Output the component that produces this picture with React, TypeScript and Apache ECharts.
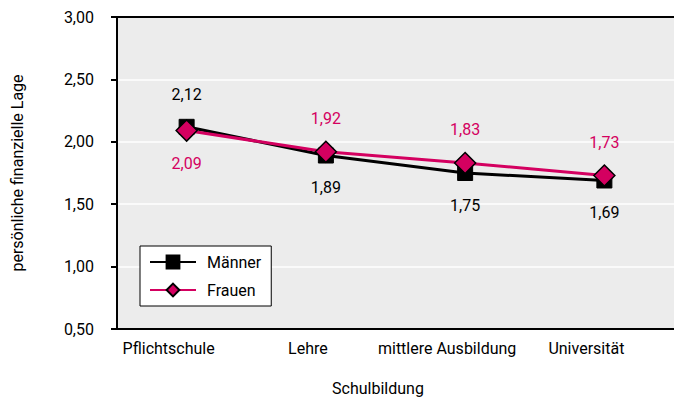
import React, { useEffect, useRef } from "react";
import * as echarts from "echarts";

const categories = ["Pflichtschule", "Lehre", "mittlere Ausbildung", "Universität"];
const maenner = [2.12, 1.89, 1.75, 1.69];
const frauen = [2.09, 1.92, 1.83, 1.73];
const seriesNames = ["Männer", "Frauen"];
const yAxisName = "persönliche finanzielle Lage";
const xAxisName = "Schulbildung";

const FONT = "Roboto, 'Liberation Sans', sans-serif";
const PINK = "#d40060";

const fmt = (v: number) => v.toFixed(2).replace(".", ",");

export default function App() {
  const ref = useRef<HTMLDivElement>(null);
  useEffect(() => {
    if (!ref.current) return;
    const chart = echarts.init(ref.current, undefined, { renderer: "svg" });
    chart.setOption({
      animation: false,
      textStyle: { fontFamily: FONT },
      grid: {
        left: 117,
        right: -10,
        top: 17,
        bottom: 77,
        show: true,
        backgroundColor: "#ececec",
        borderWidth: 0,
      },
      legend: {
        orient: "vertical",
        left: 140,
        top: 246,
        padding: [8, 10, 8, 9],
        itemGap: 12,
        itemWidth: 46,
        itemHeight: 16,
        backgroundColor: "#ffffff",
        borderColor: "#000000",
        borderWidth: 1,
        borderRadius: 0,
        textStyle: { fontFamily: FONT, fontSize: 16, color: "#000", padding: [0, 0, 0, 6] },
        data: seriesNames,
      },
      xAxis: [
        {
          type: "category",
          data: categories,
          boundaryGap: true,
          axisLine: { lineStyle: { color: "#000", width: 2 } },
          axisTick: { length: 6, lineStyle: { color: "#000", width: 2 } },
          axisLabel: {
            fontFamily: FONT,
            fontSize: 16,
            color: "#000",
            margin: 11,
            interval: 0,
            padding: [0, 36, 0, 0],
          },
        },
        {
          type: "category",
          position: "top",
          data: categories,
          axisLine: { lineStyle: { color: "#000", width: 2 } },
          axisTick: { show: false },
          axisLabel: { show: false },
        },
      ],
      yAxis: {
        type: "value",
        min: 0.5,
        max: 3,
        interval: 0.5,
        name: yAxisName,
        nameLocation: "middle",
        nameGap: 92,
        nameTextStyle: { fontFamily: FONT, fontSize: 16, color: "#000" },
        axisLine: { show: true, lineStyle: { color: "#000", width: 2 } },
        axisTick: { show: true, inside: false, length: 6, lineStyle: { color: "#000", width: 2 } },
        axisLabel: { fontFamily: FONT, fontSize: 16, color: "#000", margin: 23, formatter: (v: number) => fmt(v) },
        splitLine: { show: true, lineStyle: { color: "#ffffff", width: 1.5 } },
      },
      graphic: [
        {
          type: "text",
          x: 378,
          y: 388,
          style: {
            text: xAxisName,
            fontFamily: FONT,
            fontSize: 16,
            fill: "#000",
            align: "center",
            verticalAlign: "middle",
          },
        },
      ],
      series: [
        {
          name: seriesNames[0],
          type: "line",
          data: maenner.map((v, i) => ({ value: v, label: { position: i === 0 ? "top" : "bottom" } })),
          symbol: "rect",
          symbolSize: 15,
          lineStyle: { color: "#000", width: 3 },
          itemStyle: { color: "#000", borderColor: "#000", borderWidth: 1 },
          label: {
            show: true,
            fontFamily: FONT,
            fontSize: 16,
            color: "#000",
            distance: 16,
            formatter: (p: any) => fmt(p.value),
          },
          emphasis: { disabled: true },
        },
        {
          name: seriesNames[1],
          type: "line",
          data: frauen.map((v, i) => ({ value: v, label: { position: i === 0 ? "bottom" : "top" } })),
          symbol: "diamond",
          symbolSize: 21,
          lineStyle: { color: PINK, width: 3 },
          itemStyle: { color: PINK, borderColor: "#000", borderWidth: 1.5 },
          label: {
            show: true,
            fontFamily: FONT,
            fontSize: 16,
            color: PINK,
            distance: 14,
            formatter: (p: any) => fmt(p.value),
          },
          emphasis: { disabled: true },
        },
      ],
    });
    return () => chart.dispose();
  }, []);
  return <div ref={ref} style={{ width: 674, height: 406, position: "absolute", left: 0, top: 0 }} />;
}
